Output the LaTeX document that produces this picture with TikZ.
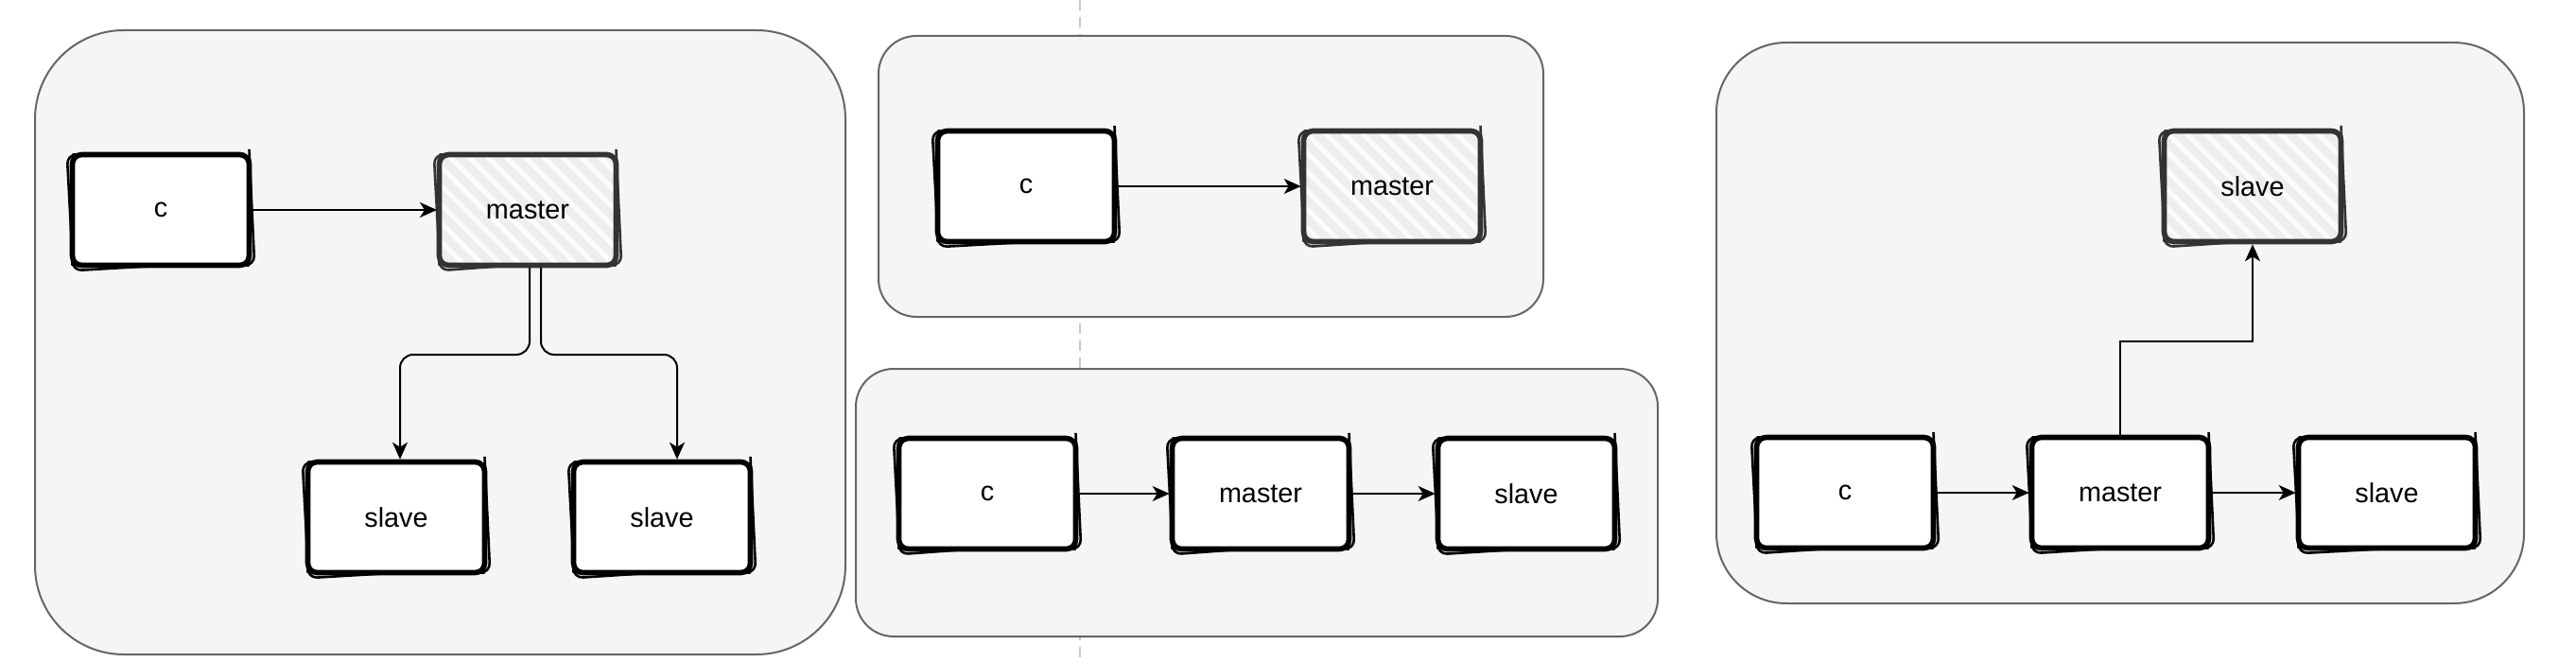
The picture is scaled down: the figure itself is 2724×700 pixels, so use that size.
\documentclass[tikz,border=0pt]{standalone}
\usepackage{fontspec}
\setsansfont{Liberation Sans}
\usetikzlibrary{arrows.meta,positioning,calc,decorations.pathmorphing,patterns.meta}
\definecolor{panelbg}{HTML}{F5F5F5}
\definecolor{panelline}{HTML}{666666}
\definecolor{hatchbg}{HTML}{EEEEEE}
\definecolor{hatchline}{HTML}{333333}
\definecolor{divider}{HTML}{C8C8C8}

\begin{document}
\pgfmathsetseed{7}
\begin{tikzpicture}[x=0.5pt,y=-0.5pt,
  panel/.style={draw=panelline,fill=panelbg,line width=1pt},
  sketch/.style={draw=#1,line width=2.8pt,rounded corners=5pt,fill=white,minimum width=93.5pt,minimum height=58.5pt,align=center,font=\sffamily\fontsize{14.4}{17}\selectfont,
    postaction={draw=#1,line width=1.3pt,decorate,decoration={random steps,segment length=40pt,amplitude=0.5pt}}},
  sketch/.default=black,
  hatch/.style={sketch=hatchline,preaction={fill=hatchbg},pattern={Lines[angle=-45,distance=7pt,line width=2.5pt]},pattern color=white!80!hatchbg},
  arr/.style={->,>={Stealth[length=9pt,width=8pt,inset=2.5pt]},line width=1pt},
  divline/.style={draw=divider,line width=1pt,dash pattern=on 5.5pt off 3.5pt}
]
\useasboundingbox (0,0) rectangle (2724,700);

% divider behind the panels
\coordinate (divtop) at (1142,0);
\coordinate (divbot) at (1142,700);
\draw[divline] (divtop) -- (divbot);

% panels
\draw[panel,rounded corners=47pt] (37,32) rectangle (894,692);
\draw[panel,rounded corners=20pt] (929,38) rectangle (1632,335);
\draw[panel,rounded corners=20pt] (905,390) rectangle (1753,673);
\draw[panel,rounded corners=37pt] (1815,45) rectangle (2669,638);

% left: master with two slaves
\node[sketch] (c1)  at (170,222) {c};
\node[hatch]  (m1)  at (558,222) {master};
\node[sketch] (s1a) at (419,547) {slave};
\node[sketch] (s1b) at (700,547) {slave};

\draw[arr] (c1) -- (m1);
\draw[arr,rounded corners=7pt] ([xshift=1pt]m1.south) -- ++(0,92) -| ([xshift=2pt]s1a.north);
\draw[arr,rounded corners=7pt] ([xshift=7pt]m1.south) -- ++(0,92) -| ([xshift=8pt]s1b.north);

% middle top: client and master
\node[sketch] (c2) at (1085,197) {c};
\node[hatch]  (m2) at (1472,197) {master};
\draw[arr] (c2) -- (m2);

% middle bottom: chain
\node[sketch] (c3) at (1044,522) {c};
\node[sketch] (m3) at (1333,522) {master};
\node[sketch] (s3) at (1614,522) {slave};
\draw[arr] (c3) -- (m3);
\draw[arr] (m3) -- (s3);

% right: chain with promoted slave
\node[sketch] (c4) at (1951,521) {c};
\node[sketch] (m4) at (2242,521) {master};
\node[sketch] (s4) at (2524,521) {slave};
\node[hatch]  (t4) at (2382,197) {slave};
\draw[arr] (c4) -- (m4);
\draw[arr] (m4) -- (s4);
\draw[arr] (m4.north) -- ++(0,-99) -| (t4.south);
\end{tikzpicture}
\end{document}
